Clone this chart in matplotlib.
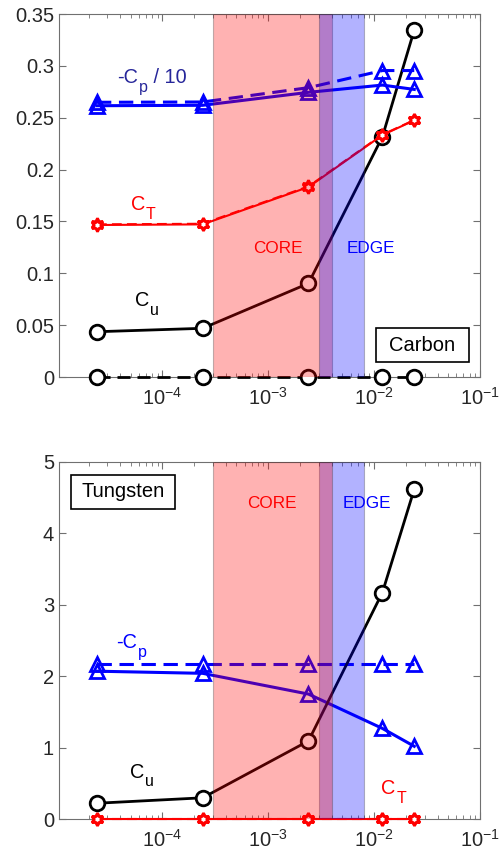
import numpy as np
import matplotlib
matplotlib.use("Agg")
import matplotlib.pyplot as plt
from matplotlib.patches import Rectangle
from matplotlib.ticker import FormatStrFormatter, LogLocator

plt.rcParams['font.family'] = ['Liberation Sans', 'DejaVu Sans']
plt.rcParams['axes.unicode_minus'] = False

# collisionality scan points
x = [2.4e-5, 2.4e-4, 2.4e-3, 1.2e-2, 2.4e-2]

# carbon
c_cu = [0.0437, 0.047, 0.0903, 0.2317, 0.3346]
c_cu0 = [0.0, 0.0, 0.0, 0.0, 0.0]
c_ct = [0.1466, 0.1472, 0.1832, 0.2333, 0.2475]
c_ct_d = [0.1472, 0.1478, 0.1838, 0.2337, 0.2478]
c_cp = [0.2616, 0.2620, 0.2745, 0.2815, 0.2773]
c_cp_d = [0.2649, 0.2652, 0.2790, 0.2955, 0.2955]

# tungsten
w_cu = [0.224, 0.30, 1.095, 3.17, 4.615]
w_ct = [0.0, 0.0, 0.0, 0.0, 0.0]
w_cp = [2.07, 2.04, 1.75, 1.27, 1.02]
w_cp_d = [2.17, 2.17, 2.17, 2.17, 2.17]

core = (3.0e-4, 4.0e-3)
edge = (3.0e-3, 8.0e-3)

xticks = [1e-4, 1e-3, 1e-2, 1e-1]

fig = plt.figure(figsize=(5.04, 8.55), dpi=100)
ax1 = fig.add_axes([0.117, 0.559, 0.835, 0.4246])
ax2 = fig.add_axes([0.117, 0.0418, 0.835, 0.4183])

DASH = (4.7, 2.5)
star = (6, 1, 0)
FS_MAIN = 14.3
FS_SUB = 11.5


def series(ax, y, color, marker, lw, ms, dashed=False, mfc='white'):
    ln, = ax.plot(x, y, color=color, lw=lw, marker=marker, ms=ms, mew=2,
                  mfc=mfc, mec=color, clip_on=False, zorder=3)
    if dashed:
        ln.set_dashes(DASH)
    return ln


def sub_label(ax, xd, yd, head, sub, color, tail=None):
    # head text on the baseline, a lowered subscript, optional tail back on the baseline
    t0 = ax.text(xd, yd, head, color=color, fontsize=FS_MAIN, va='baseline')
    t1 = ax.annotate(sub, xy=(1, 0), xycoords=t0, xytext=(0.5, -5.5),
                     textcoords='offset points', va='bottom', color=color,
                     fontsize=FS_SUB)
    if tail:
        ax.annotate(tail, xy=(1, 0), xycoords=(t1, t0), xytext=(0, 0),
                    textcoords='offset points', va='bottom', color=color,
                    fontsize=FS_MAIN)


def style(ax, ylim, yticks, fmt):
    ax.set_xscale('log')
    ax.set_xlim(1.05e-5, 1e-1)
    ax.set_xticks(xticks)
    ax.xaxis.set_minor_locator(LogLocator(base=10, subs=np.arange(2, 10), numticks=20))
    ax.set_ylim(*ylim)
    ax.set_yticks(yticks)
    ax.yaxis.set_major_formatter(FormatStrFormatter(fmt))
    ax.tick_params(which='both', direction='in', top=True, right=True,
                   colors='#707070', labelcolor='#262626', labelsize=14.5)
    ax.tick_params(which='major', length=5, width=0.8)
    ax.tick_params(which='minor', length=3, width=0.6)
    ax.tick_params(axis='x', which='major', pad=7)
    for s in ax.spines.values():
        s.set_color('#707070')
        s.set_linewidth(0.8)


def band(ax, lo, hi, color, z):
    ax.axvspan(lo, hi, facecolor=color, alpha=0.3, edgecolor='#303030',
               lw=0.8, zorder=z)


def box_label(ax, x0, y0, w, h, text):
    ax.add_patch(Rectangle((x0, y0), w, h, transform=ax.transAxes,
                           facecolor='white', edgecolor='black', lw=1.2, zorder=6))
    ax.text(x0 + w / 2, y0 + h / 2, text, transform=ax.transAxes,
            ha='center', va='center', fontsize=14.5, zorder=7)


# ---- carbon
series(ax1, c_cu0, 'black', 'o', 2.0, 10.5, dashed=True)
series(ax1, c_cu, 'black', 'o', 2.0, 10.5)
series(ax1, c_ct_d, 'red', star, 1.5, 9, dashed=True)
series(ax1, c_ct, 'red', star, 1.5, 9)
series(ax1, c_cp_d, 'blue', '^', 2.2, 10.5, dashed=True, mfc='none')
series(ax1, c_cp, 'blue', '^', 2.2, 10.5, mfc='none')
band(ax1, *core, 'red', 4)
band(ax1, *edge, 'blue', 4.1)

sub_label(ax1, 3.72e-5, 0.2835, '-C', 'p', '#26269a', tail=' / 10')
sub_label(ax1, 5.0e-5, 0.161, 'C', 'T', 'red')
sub_label(ax1, 5.5e-5, 0.0685, 'C', 'u', 'black')
ax1.text(1.245e-3, 0.1244, 'CORE', color='red', fontsize=12.3, ha='center', va='center', zorder=8)
ax1.text(9.3e-3, 0.1244, 'EDGE', color='blue', fontsize=12.3, ha='center', va='center', zorder=8)
box_label(ax1, 0.753, 0.041, 0.221, 0.094, 'Carbon')
style(ax1, (0, 0.35), np.arange(0, 0.351, 0.05), '%g')

# ---- tungsten
series(ax2, w_ct, 'red', star, 1.5, 9, dashed=True)
series(ax2, w_ct, 'red', star, 1.5, 9)
series(ax2, w_cp_d, 'blue', '^', 2.2, 10.5, dashed=True, mfc='none')
series(ax2, w_cp, 'blue', '^', 2.2, 10.5, mfc='none')
series(ax2, w_cu, 'black', 'o', 2.0, 10.5)
band(ax2, *edge, 'blue', 4)
band(ax2, *core, 'red', 4.1)

sub_label(ax2, 3.65e-5, 2.39, '-C', 'p', 'blue')
sub_label(ax2, 4.9e-5, 0.58, 'C', 'u', 'black')
sub_label(ax2, 1.17e-2, 0.35, 'C', 'T', 'red')
ax2.text(1.07e-3, 4.42, 'CORE', color='red', fontsize=12.3, ha='center', va='center', zorder=8)
ax2.text(8.57e-3, 4.42, 'EDGE', color='blue', fontsize=12.3, ha='center', va='center', zorder=8)
box_label(ax2, 0.0285, 0.868, 0.247, 0.095, 'Tungsten')
style(ax2, (0, 5), np.arange(0, 6), '%g')

fig.savefig('out.png', dpi=100)
